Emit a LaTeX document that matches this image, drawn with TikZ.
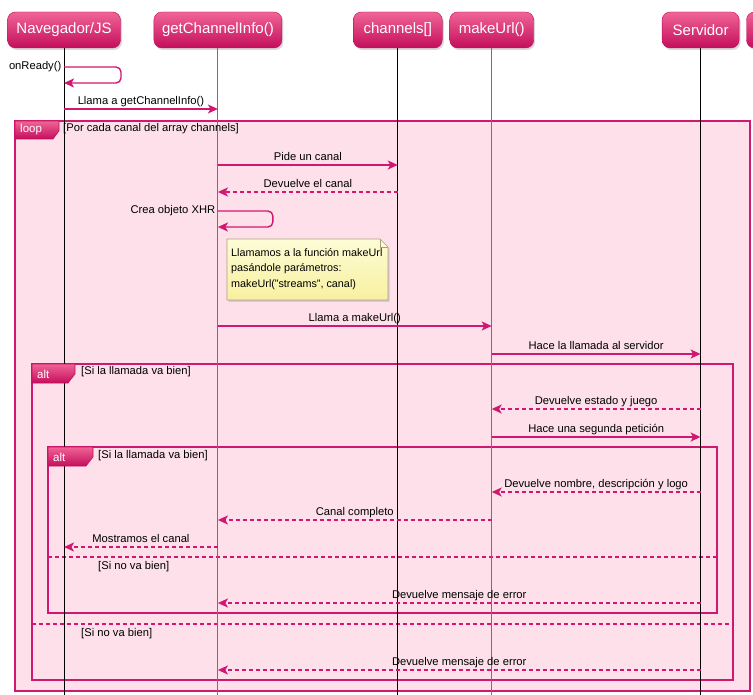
\documentclass[tikz,border=0pt]{standalone}
\usepackage{fontspec}
\setmainfont{Liberation Sans}
\usetikzlibrary{arrows.meta,positioning,shadows}
\definecolor{rosa}{RGB}{208,24,112}
\definecolor{rosafondo}{RGB}{253,224,234}
\definecolor{rosaclaro}{RGB}{240,100,150}
\definecolor{rosaoscuro}{RGB}{196,14,92}
\definecolor{notaarriba}{RGB}{253,252,214}
\definecolor{notaabajo}{RGB}{248,240,160}
\definecolor{notaborde}{RGB}{170,160,120}

\begin{document}
\begin{tikzpicture}[x=1pt, y=-1pt, >={Stealth[length=10pt,width=9pt,inset=2.5pt]},
    part/.style={draw=rosaoscuro, rounded corners=8pt, top color=rosaclaro, bottom color=rosaoscuro,
      text=white, font=\fontsize{15}{17}\selectfont, minimum height=36pt, inner sep=0pt,
      drop shadow={shadow xshift=1.5pt, shadow yshift=-2pt, opacity=.3}},
    life/.style={line width=.9pt},
    msg/.style={->, draw=rosa, line width=1.4pt},
    ret/.style={msg, dash pattern=on 4pt off 3pt},
    lbl/.style={midway, above, inner sep=1.5pt, text depth=2.5pt, font=\fontsize{11.2}{13}\selectfont},
    selflbl/.style={left, inner sep=2pt, font=\fontsize{11.2}{13}\selectfont},
    frm/.style={draw=rosa, fill=rosafondo, line width=1.4pt},
    sep/.style={draw=rosa, line width=1.4pt, dash pattern=on 4pt off 3pt},
    fragtab/.style={draw=rosaoscuro, line width=.6pt, top color=rosaclaro, bottom color=rosaoscuro},
    tabtxt/.style={anchor=west, inner sep=0pt, text=white, font=\fontsize{11.5}{13}\selectfont},
    cond/.style={anchor=west, inner sep=0pt, font=\fontsize{11.2}{13}\selectfont},
    nota/.style={draw=notaborde, line width=.6pt, top color=notaarriba, bottom color=notaabajo,
      drop shadow={shadow xshift=1.5pt, shadow yshift=-2pt, opacity=.25}},
    notatxt/.style={anchor=west, align=left, inner sep=0pt, font=\fontsize{10.8}{15.3}\selectfont}]
  \useasboundingbox (0,0) rectangle (753,695);
  \clip (0,0) rectangle (753,695);

  % participantes
  \node[part, minimum width=113pt] (nav) at (64,30) {Navegador/JS};
  \node[part, minimum width=128pt, right=33pt of nav] (gci) {getChannelInfo()};
  \node[part, minimum width=89pt, right=71pt of gci] (chn) {channels[]};
  \node[part, minimum width=84pt, right=7pt of chn] (mku) {makeUrl()};
  \node[part, minimum width=77pt, right=128pt of mku] (srv) {Servidor};
  \node[part, minimum width=80pt, right=7pt of srv] (otro) {};

  % fragmentos
  \draw[frm] (15,121) rectangle (750,691);
  \draw[frm] (32,364) rectangle (733,680);
  \draw[frm] (48,447) rectangle (717,613);
  \draw[sep] (48,557) -- (717,557);
  \draw[sep] (32,624) -- (733,624);

  % lineas de vida
  \foreach \p in {nav,chn,srv} \draw[life] (\p.south) -- (\p.south |- 0,695);
  \foreach \p in {gci,mku} \draw[life, draw=black!55] (\p.south) -- (\p.south |- 0,695);

  % etiquetas de los fragmentos
  \draw[fragtab] (15,121) -- ++(44,0) -- ++(0,10) -- ++(-6,8) -- (15,139) -- cycle;
  \node[tabtxt] (tloop) at (20,130) {loop};
  \node[cond] (cloop) at (63,129) {[Por cada canal del array channels]};
  \draw[fragtab] (32,364) -- ++(43,0) -- ++(0,10) -- ++(-7,9) -- (32,383) -- cycle;
  \node[tabtxt] (talt1) at (37,374) {alt};
  \node[cond] (calt1) at (81,372) {[Si la llamada va bien]};
  \draw[fragtab] (48,447) -- ++(45,0) -- ++(0,10) -- ++(-7,9) -- (48,466) -- cycle;
  \node[tabtxt] (talt2) at (53,457) {alt};
  \node[cond] (calt2) at (98,456) {[Si la llamada va bien]};
  \node[cond] (celse2) at (98,567) {[Si no va bien]};
  \node[cond] (celse1) at (81,634) {[Si no va bien]};

  % mensajes
  \draw[msg, rounded corners=5pt] (nav |- 0,67) node[selflbl] {onReady()}
    -- ++(57,0) -- ++(0,16) -- (nav |- 0,83);
  \draw[msg] (nav |- 0,109) -- node[lbl] {Llama a getChannelInfo()} (gci |- 0,109);
  \draw[msg] (gci |- 0,165) -- node[lbl] {Pide un canal} (chn |- 0,165);
  \draw[ret] (chn |- 0,192) -- node[lbl] {Devuelve el canal} (gci |- 0,192);
  \draw[msg, rounded corners=5pt] (gci |- 0,211) node[selflbl] {Crea objeto XHR}
    -- ++(55,0) -- ++(0,16) -- (gci |- 0,227);

  % nota
  \draw[nota] (227,239) -- (380,239) -- (388,247) -- (388,300) -- (227,300) -- cycle;
  \draw[draw=notaborde, line width=.6pt] (380,239) -- (380,247) -- (388,247);
  \node[notatxt] (txtnota) at (231,269) {Llamamos a la función makeUrl\\pasándole parámetros:\\makeUrl("streams", canal)};

  \draw[msg] (gci |- 0,326) -- node[lbl] {Llama a makeUrl()} (mku |- 0,326);
  \draw[msg] (mku |- 0,354) -- node[lbl] {Hace la llamada al servidor} (srv |- 0,354);
  \draw[ret] (srv |- 0,409) -- node[lbl] {Devuelve estado y juego} (mku |- 0,409);
  \draw[msg] (mku |- 0,437) -- node[lbl] {Hace una segunda petición} (srv |- 0,437);
  \draw[ret] (srv |- 0,492) -- node[lbl] {Devuelve nombre, descripción y logo} (mku |- 0,492);
  \draw[ret] (mku |- 0,520) -- node[lbl] {Canal completo} (gci |- 0,520);
  \draw[ret] (gci |- 0,547) -- node[lbl] {Mostramos el canal} (nav |- 0,547);
  \draw[ret] (srv |- 0,603) -- node[lbl] {Devuelve mensaje de error} (gci |- 0,603);
  \draw[ret] (srv |- 0,670) -- node[lbl] {Devuelve mensaje de error} (gci |- 0,670);
\end{tikzpicture}
\end{document}
